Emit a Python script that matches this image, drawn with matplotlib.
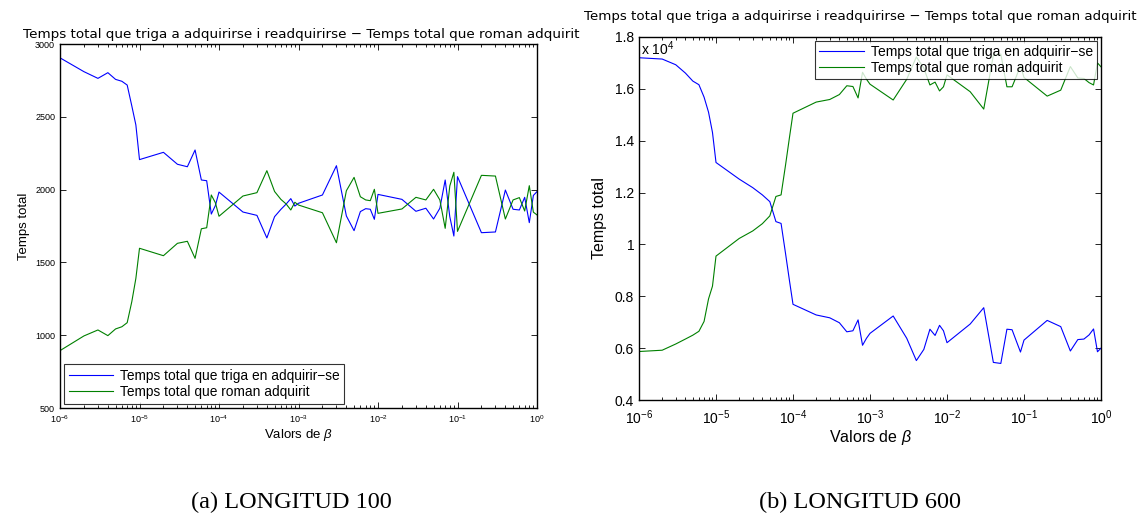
import matplotlib
matplotlib.use('Agg')
import numpy as np
import matplotlib.pyplot as plt
from matplotlib.ticker import LogLocator, FormatStrFormatter

# valors de beta (1..9 x 10^d)
beta = [1e-6, 2e-6, 3e-6, 4e-6, 5e-6, 6e-6, 7e-6, 8e-6, 9e-6,
        1e-5, 2e-5, 3e-5, 4e-5, 5e-5, 6e-5, 7e-5, 8e-5, 9e-5,
        1e-4, 2e-4, 3e-4, 4e-4, 5e-4, 6e-4, 7e-4, 8e-4, 9e-4,
        1e-3, 2e-3, 3e-3, 4e-3, 5e-3, 6e-3, 7e-3, 8e-3, 9e-3,
        1e-2, 2e-2, 3e-2, 4e-2, 5e-2, 6e-2, 7e-2, 8e-2, 9e-2,
        1e-1, 2e-1, 3e-1, 4e-1, 5e-1, 6e-1, 7e-1, 8e-1, 9e-1,
        1.0]

# LONGITUD 100
triga_100 = [2905, 2810, 2764, 2803, 2757, 2744, 2718, 2575, 2444,
             2206, 2256, 2174, 2157, 2272, 2066, 2061, 1832, 1890,
             1983, 1846, 1823, 1668, 1814, 1864, 1901, 1938, 1887,
             1906, 1963, 2164, 1819, 1718, 1849, 1869, 1865, 1796,
             1967, 1933, 1851, 1872, 1798, 1872, 2066, 1814, 1681,
             2089, 1704, 1709, 1997, 1865, 1860, 1947, 1773, 1960,
             1986]
roman_100 = [894, 995, 1036, 997, 1043, 1058, 1086, 1230, 1390,
             1597, 1546, 1631, 1645, 1528, 1731, 1738, 1963, 1910,
             1817, 1956, 1979, 2130, 1987, 1933, 1901, 1860, 1913,
             1894, 1841, 1635, 1992, 2084, 1951, 1929, 1924, 2002,
             1837, 1867, 1947, 1929, 2002, 1929, 1734, 2025, 2119,
             1713, 2098, 2093, 1798, 1929, 1945, 1853, 2027, 1845,
             1826]

# LONGITUD 600
triga_600 = [17200, 17150, 16930, 16610, 16300, 16160, 15680, 15100, 14320,
             13160, 12520, 12190, 11910, 11650, 10880, 10810, 9650, 8600,
             7690, 7280, 7170, 6980, 6630, 6670, 7090, 6110, 6380,
             6570, 7240, 6380, 5520, 5950, 6730, 6490, 6880, 6670,
             6210, 6930, 7560, 5450, 5410, 6730, 6710, 6250, 5850,
             6310, 7070, 6830, 5890, 6330, 6350, 6510, 6740, 5860,
             6000]
roman_600 = [5870, 5920, 6160, 6350, 6500, 6650, 7030, 7900, 8390,
             9550, 10230, 10520, 10800, 11100, 11850, 11910, 13060, 14130,
             15060, 15490, 15590, 15780, 16120, 16090, 15650, 16640, 16370,
             16180, 15570, 16370, 17230, 16800, 16150, 16260, 15920, 16080,
             16540, 15890, 15220, 17300, 17340, 16080, 16080, 16500, 16900,
             16440, 15720, 15950, 16860, 16420, 16400, 16240, 16150, 17000,
             16850]

titol = 'Temps total que triga a adquirirse i readquirirse \u2212 Temps total que roman adquirit'
lbl_triga = 'Temps total que triga en adquirir\u2212se'
lbl_roman = 'Temps total que roman adquirit'

sans = ['Liberation Sans', 'DejaVu Sans']
plt.rcParams['font.family'] = sans
plt.rcParams['mathtext.fontset'] = 'custom'
plt.rcParams['mathtext.rm'] = 'Liberation Sans'
plt.rcParams['mathtext.it'] = 'Liberation Sans:italic'

blau = (0, 0, 1)
verd = (0, 0.5, 0)

fig = plt.figure(figsize=(11.47, 5.15), dpi=100)
ax1 = fig.add_axes([60 / 1147, 107 / 515, 477 / 1147, 364 / 515])
ax2 = fig.add_axes([639 / 1147, 115 / 515, 462 / 1147, 363 / 515])


def estil(ax, fs):
    ax.set_xscale('log')
    ax.set_xlim(1e-6, 1)
    ax.xaxis.set_major_locator(LogLocator(base=10, numticks=10))
    ax.xaxis.set_minor_locator(LogLocator(base=10, subs=np.arange(2, 10), numticks=20))
    ax.tick_params(which='both', direction='in', top=True, right=True,
                   labelsize=fs, width=0.6, colors='black')
    ax.tick_params(which='major', length=4)
    ax.tick_params(which='minor', length=2)
    for s in ax.spines.values():
        s.set_linewidth(1.0)


# (a) LONGITUD 100
ax1.plot(beta, triga_100, color=blau, lw=0.8, label=lbl_triga)
ax1.plot(beta, roman_100, color=verd, lw=0.8, label=lbl_roman)
estil(ax1, 6.5)
ax1.set_ylim(500, 3000)
ax1.set_yticks([500, 1000, 1500, 2000, 2500, 3000])
ax1.set_title(titol, fontsize=9.7, pad=4, family='DejaVu Sans', x=0.505)
ax1.set_xlabel('Valors de $\\beta$', fontsize=9.5, labelpad=2)
ax1.set_ylabel('Temps total', fontsize=9.5, labelpad=4)
leg1 = ax1.legend(loc='lower left', fontsize=9.9, frameon=True, fancybox=False,
                  edgecolor='black', borderpad=0.35, handlelength=3.2,
                  handletextpad=0.5, labelspacing=0.15, borderaxespad=0.3)
leg1.get_frame().set_linewidth(0.8)

# (b) LONGITUD 600
ax2.plot(beta, np.array(triga_600) / 1e4, color=blau, lw=0.8, label=lbl_triga)
ax2.plot(beta, np.array(roman_600) / 1e4, color=verd, lw=0.8, label=lbl_roman)
estil(ax2, 10)
ax2.set_ylim(0.4, 1.8)
ax2.set_yticks([0.4, 0.6, 0.8, 1.0, 1.2, 1.4, 1.6, 1.8])
ax2.yaxis.set_major_formatter(FormatStrFormatter('%g'))
ax2.tick_params(axis='x', which='major', pad=6)
ax2.text(0.004, 0.993, 'x 10$^4$', transform=ax2.transAxes, fontsize=10,
         ha='left', va='top')
ax2.set_title(titol, fontsize=9.6, pad=12, x=0.48, family='DejaVu Sans')
ax2.set_xlabel('Valors de $\\beta$', fontsize=11.5, labelpad=1)
ax2.set_ylabel('Temps total', fontsize=11.5, labelpad=6)
leg2 = ax2.legend(loc='upper right', fontsize=10, frameon=True, fancybox=False,
                  edgecolor='black', borderpad=0.3, handlelength=3.2,
                  handletextpad=0.5, labelspacing=0.1, borderaxespad=0.3)
leg2.get_frame().set_linewidth(0.8)

serif = ['Liberation Serif', 'DejaVu Serif']
fig.text(291 / 1147, 1 - 502 / 515, '(a) LONGITUD 100', ha='center', va='center',
         fontsize=17.5, family=serif)
fig.text(860 / 1147, 1 - 502 / 515, '(b) LONGITUD 600', ha='center', va='center',
         fontsize=17.5, family=serif)

fig.savefig('out.png', dpi=100)
